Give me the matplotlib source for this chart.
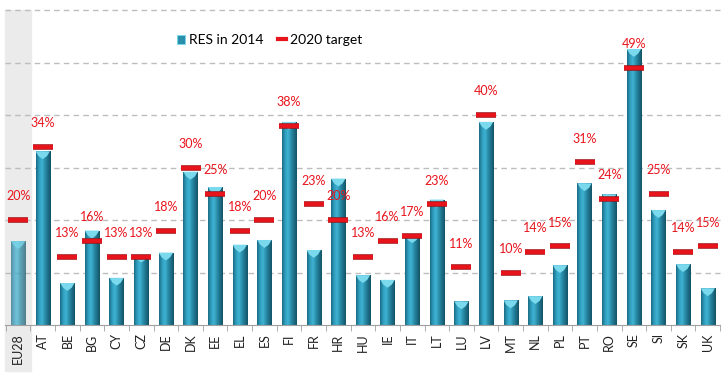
import numpy as np
import matplotlib
matplotlib.use('Agg')
import matplotlib.pyplot as plt
import matplotlib.colors as pltcolors
from matplotlib.patches import Rectangle, Polygon, Patch
from matplotlib.lines import Line2D
import matplotlib.transforms as mtransforms

plt.rcParams['font.family'] = ['Lato', 'DejaVu Sans']

countries = ['EU28', 'AT', 'BE', 'BG', 'CY', 'CZ', 'DE', 'DK', 'EE', 'EL', 'ES', 'FI', 'FR', 'HR',
             'HU', 'IE', 'IT', 'LT', 'LU', 'LV', 'MT', 'NL', 'PL', 'PT', 'RO', 'SE', 'SI', 'SK', 'UK']
res_2014 = [16.0, 33.1, 8.0, 18.0, 9.0, 13.4, 13.8, 29.2, 26.3, 15.3, 16.2, 38.7, 14.3, 27.9,
            9.5, 8.6, 17.1, 23.9, 4.5, 38.7, 4.7, 5.5, 11.4, 27.0, 24.9, 52.6, 21.9, 11.6, 7.0]
target_2020 = [20, 34, 13, 16, 13, 13, 18, 30, 25, 18, 20, 38, 23, 20,
               13, 16, 17, 23, 11, 40, 10, 14, 15, 31, 24, 49, 25, 14, 15]

red = '#e8141c'
fig = plt.figure(figsize=(7.23, 3.74), dpi=100)
ax = fig.add_axes([0.007, 0.131, 0.989, 0.842])

x = np.arange(len(countries))
ax.set_xlim(-0.53, len(countries) - 0.5)
ax.set_ylim(0, 60)

# grey band behind EU28
trans = mtransforms.blended_transform_factory(ax.transData, ax.transAxes)
ax.add_patch(Rectangle((-0.55, -0.145), 1.08, 1.145, transform=trans, color='#ebebeb',
                       zorder=0, clip_on=False))

# grid
for g in range(10, 61, 10):
    ax.axhline(g, color='#bdbdbd', lw=1, ls=(0, (4, 3)), zorder=1, clip_on=False)

# bars with cylinder-like gradient
cmap = pltcolors.LinearSegmentedColormap.from_list(
    'cyl', ['#1b6b82', '#2f9dbd', '#3fb3d2', '#2a8fab', '#1d7089', '#145466'])
grad = np.linspace(0, 1, 64).reshape(1, -1)
bars = ax.bar(x, res_2014, width=0.58, color='none', zorder=2)
for i, b in enumerate(bars):
    bx, by, bw, bh = b.get_x(), b.get_y(), b.get_width(), b.get_height()
    a = 0.72 if i == 0 else 1.0
    im = ax.imshow(grad, cmap=cmap, aspect='auto', extent=[bx, bx + bw, by, by + bh],
                   zorder=2, alpha=a)
    im.set_clip_path(b)
    cap = Polygon([[bx, by + bh], [bx + bw, by + bh], [bx + bw * 0.8, by + bh - 0.9],
                   [bx + bw * 0.5, by + bh - 1.5], [bx + bw * 0.2, by + bh - 0.9]],
                  closed=True, facecolor='#7ad9ec', edgecolor='none', zorder=3, alpha=a)
    ax.add_patch(cap)

# targets
ax.plot(x, target_2020, ls='none', marker='_', ms=15, mew=4.0, color='#a01015', zorder=4)
ax.plot(x, target_2020, ls='none', marker='_', ms=14, mew=2.8, color=red, zorder=4)
for xi, t in zip(x, target_2020):
    ax.text(xi, t + 4.5, '{}%'.format(t), color=red, fontsize=9, ha='center', va='center', zorder=5)

# axes styling
for s in ['top', 'right', 'left']:
    ax.spines[s].set_visible(False)
ax.spines['bottom'].set_color('#a0a0a0')
ax.set_yticks([])
ax.set_xticks(x)
ax.set_xticklabels(countries, rotation=90, fontsize=9, color='#222222')
ax.tick_params(axis='x', which='major', length=0, pad=6)
ax.set_xticks(np.arange(-0.5, len(countries), 1), minor=True)
ax.tick_params(axis='x', which='minor', length=4, color='#a0a0a0', direction='out')

handles = [Patch(facecolor='#2a8fab', edgecolor='#7ad9ec', lw=0.6),
           Line2D([0], [0], color=red, lw=3)]
ax.legend(handles, ['RES in 2014', '2020 target'], loc='center', bbox_to_anchor=(0.37, 0.905),
          ncol=2, frameon=False, fontsize=10, handlelength=0.6, handleheight=0.6,
          handletextpad=0.3, columnspacing=1.0)

plt.savefig('out.png', dpi=100)
plt.close()
